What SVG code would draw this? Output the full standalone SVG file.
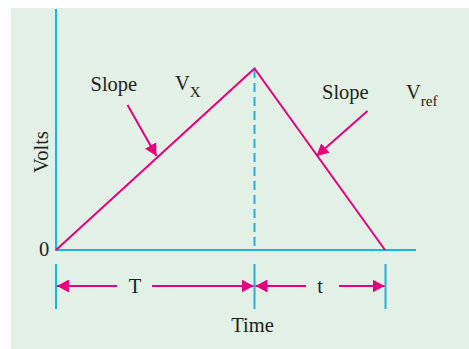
<svg xmlns="http://www.w3.org/2000/svg" width="469" height="349" viewBox="0 0 469 349">
<defs>
<style>
.ax{stroke:#1ab2e8;stroke-width:2;fill:none}
.pk{stroke:#e6007e;stroke-width:2;fill:none}
text{font-family:"Liberation Serif","Times New Roman",serif;fill:#231f20}
.lb{font-size:20.5px}
.sb{font-size:15px}
</style>
<marker id="arr" viewBox="0 0 12 13" refX="12" refY="6.5" markerWidth="12" markerHeight="13" markerUnits="userSpaceOnUse" orient="auto">
<path d="M0,0 L12,6.5 L0,13 Z" fill="#e6007e"/>
</marker>
</defs>
<rect x="11" y="8" width="458" height="341" fill="#e2f0e5"/>
<g id="axes">
<line class="ax" x1="56" y1="9" x2="56" y2="251"/>
<line class="ax" x1="55" y1="250" x2="416" y2="250"/>
<line class="ax" x1="254.5" y1="69" x2="254.5" y2="250" stroke-dasharray="9,5"/>
<line class="ax" x1="56" y1="264" x2="56" y2="309"/>
<line class="ax" x1="254.5" y1="264" x2="254.5" y2="309"/>
<line class="ax" x1="385.5" y1="264" x2="385.5" y2="309"/>
</g>
<g id="waveform">
<polyline class="pk" points="56,250 254.5,68.5 385,250"/>
</g>
<g id="connectors">
<line class="pk" x1="127.5" y1="105" x2="156.5" y2="156" marker-end="url(#arr)"/>
<line class="pk" x1="367.5" y1="111" x2="316.5" y2="156" marker-end="url(#arr)"/>
<line class="pk" x1="117" y1="286" x2="57" y2="286" marker-end="url(#arr)"/>
<line class="pk" x1="152" y1="286" x2="253.5" y2="286" marker-end="url(#arr)"/>
<line class="pk" x1="306" y1="286" x2="255.5" y2="286" marker-end="url(#arr)"/>
<line class="pk" x1="339" y1="286" x2="384.5" y2="286" marker-end="url(#arr)"/>
</g>
<g id="labels">
<text class="lb" x="90.5" y="91">Slope</text>
<text class="lb" x="175" y="90">V<tspan class="sb" dy="7">X</tspan></text>
<text class="lb" x="322" y="99">Slope</text>
<text class="lb" x="406" y="99">V<tspan class="sb" dy="7">ref</tspan></text>
<text class="lb" x="39" y="256">0</text>
<text class="lb" text-anchor="middle" transform="translate(47.5,152) rotate(-90)">Volts</text>
<text class="lb" text-anchor="middle" x="135" y="293">T</text>
<text class="lb" text-anchor="middle" x="320" y="293">t</text>
<text class="lb" text-anchor="middle" x="252.5" y="332">Time</text>
</g>
</svg>
